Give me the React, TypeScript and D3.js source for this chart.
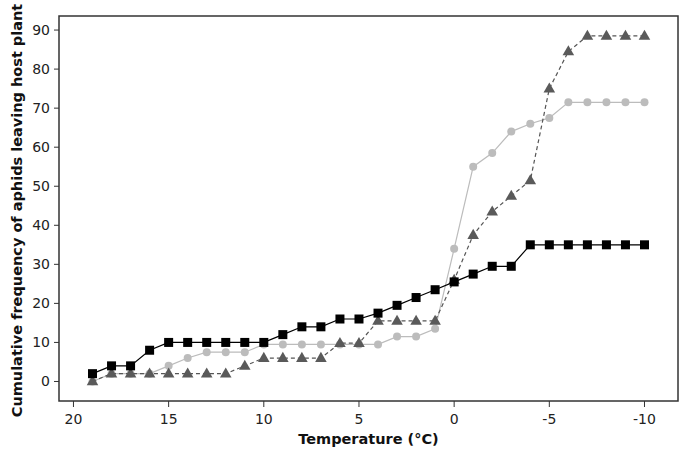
import * as d3 from 'd3';

const width = 683;
const height = 454;
const margin = { left: 59, top: 16, right: 5, bottom: 53 };

// temperatures, 19 down to -10
const temps = [
  19, 18, 17, 16, 15, 14, 13, 12, 11, 10, 9, 8, 7, 6, 5, 4, 3, 2, 1, 0, -1, -2,
  -3, -4, -5, -6, -7, -8, -9, -10,
];

const squares = [
  2, 4, 4, 8, 10, 10, 10, 10, 10, 10, 12, 14, 14, 16, 16, 17.5, 19.5, 21.5, 23.5,
  25.5, 27.5, 29.5, 29.5, 35, 35, 35, 35, 35, 35, 35,
];

const circles = [
  0, 2, 2, 2, 4, 6, 7.5, 7.5, 7.5, 9.5, 9.5, 9.5, 9.5, 9.5, 9.5, 9.5, 11.5, 11.5,
  13.5, 34, 55, 58.5, 64, 66, 67.5, 71.5, 71.5, 71.5, 71.5, 71.5,
];

const triangles = [
  0, 2, 2, 2, 2, 2, 2, 2, 4, 6, 6, 6, 6, 9.8, 9.8, 15.5, 15.5, 15.5, 15.5, 26,
  37.5, 43.5, 47.5, 51.5, 75, 84.5, 88.5, 88.5, 88.5, 88.5,
];

const xTicks = [20, 15, 10, 5, 0, -5, -10];
const yTicks = [0, 10, 20, 30, 40, 50, 60, 70, 80, 90];

const font = 'Tahoma, "DejaVu Sans", Verdana, sans-serif';

export default function App() {
  const x = d3.scaleLinear([20.76, -11.76], [margin.left, width - margin.right]);
  const y = d3.scaleLinear([-5, 93.6], [height - margin.bottom, margin.top]);
  const line = d3
    .line<number>()
    .x((_, i) => x(temps[i]))
    .y((d) => y(d));
  const tri = d3.symbol(d3.symbolTriangle, 58)();
  const x0 = margin.left;
  const x1 = width - margin.right;
  const y0 = height - margin.bottom;
  const y1 = margin.top;

  return (
    <svg
      width={width}
      height={height}
      style={{ position: 'absolute', left: 0, top: 0, background: '#fff' }}
      fontFamily={font}
    >
      <rect
        x={x0}
        y={y1}
        width={x1 - x0}
        height={y0 - y1}
        fill="none"
        stroke="#333"
        strokeWidth={1.5}
      />
      {yTicks.map((t) => (
        <g key={'y' + t}>
          <line x1={x0 - 5} x2={x0} y1={y(t)} y2={y(t)} stroke="#333" />
          <text
            x={x0 - 9}
            y={y(t) + 5}
            fontSize={14}
            textAnchor="end"
            fill="#222"
          >
            {t}
          </text>
        </g>
      ))}
      {xTicks.map((t) => (
        <g key={'x' + t}>
          <line x1={x(t)} x2={x(t)} y1={y0} y2={y0 + 6} stroke="#333" />
          <text
            x={x(t)}
            y={y0 + 23}
            fontSize={14}
            textAnchor="middle"
            fill="#222"
          >
            {t}
          </text>
        </g>
      ))}
      <text
        x={(x0 + x1) / 2}
        y={444}
        fontSize={14.5}
        fontWeight="bold"
        textAnchor="middle"
        fill="#111"
      >
        Temperature (°C)
      </text>
      <text
        transform={`translate(18,${(y0 + y1) / 2 + 2}) rotate(-90)`}
        fontSize={14.5}
        fontWeight="bold"
        textAnchor="middle"
        dominantBaseline="middle"
        fill="#111"
      >
        Cumulative frequency of aphids leaving host plant
      </text>

      {/* light gray circles */}
      <path d={line(circles) ?? ''} fill="none" stroke="#bcbcbc" strokeWidth={1.2} />
      {circles.map((v, i) => (
        <circle key={'c' + i} cx={x(temps[i])} cy={y(v)} r={4} fill="#bcbcbc" />
      ))}

      {/* dark gray triangles, dashed */}
      <path
        d={line(triangles) ?? ''}
        fill="none"
        stroke="#555"
        strokeWidth={1.2}
        strokeDasharray="4,3"
      />
      {triangles.map((v, i) => (
        <path
          key={'t' + i}
          d={tri ?? ''}
          transform={`translate(${x(temps[i])},${y(v) + 0.5})`}
          fill="#5a5a5a"
        />
      ))}

      {/* black squares */}
      <path d={line(squares) ?? ''} fill="none" stroke="#000" strokeWidth={1.2} />
      {squares.map((v, i) => (
        <rect
          key={'s' + i}
          x={x(temps[i]) - 4.5}
          y={y(v) - 4.5}
          width={9}
          height={9}
          fill="#000"
        />
      ))}
    </svg>
  );
}
